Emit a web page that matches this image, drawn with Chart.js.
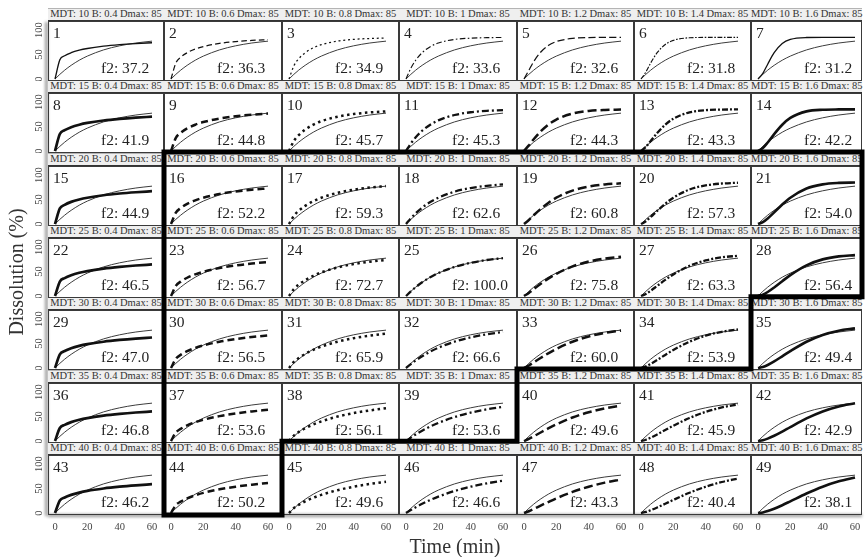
<!DOCTYPE html>
<html>
<head>
<meta charset="utf-8">
<script src="https://cdn.jsdelivr.net/npm/chart.js@4.4.0/dist/chart.umd.min.js"></script>
<style>
  html, body { margin: 0; padding: 0; background: #fff; }
  #fig { position: relative; width: 867px; height: 557px; overflow: hidden;
         font-family: "Liberation Serif", "DejaVu Serif", serif; color: #222; }
  .band { position: absolute; background: #efefef; border-top: 1px solid #b4b4b4; border-bottom: 1px solid #333; box-sizing: border-box; }
  .hdr { position: absolute; font-size: 10.5px; line-height: 12px; text-align: center; white-space: nowrap; color: #333; }
  .cell { position: absolute; }
  .cell canvas { display: block; }
  .ytitle { position: absolute; font-size: 20px; color: #333; white-space: nowrap;
            transform: translate(-50%, -50%) rotate(-90deg); }
  .xtitle { position: absolute; font-size: 20px; color: #333; white-space: nowrap; transform: translate(-50%, -50%); }
  .shade { position: absolute; background: #9a9a9a; filter: blur(1.5px); }
  svg.outline { position: absolute; left: 0; top: 0; pointer-events: none; }
</style>
</head>
<body>
<div id="fig"></div>
<script>
// Sampling times (min)
const minutes = [0, 3, 6, 10, 15, 20, 30, 40, 50, 60];

// Reference profile (MDT 25, B 1)
const reference = [0, 9.6, 18.1, 28.0, 38.4, 46.8, 59.4, 67.8, 73.5, 77.3];

// Grid parameters
const mdtValues = [10, 15, 20, 25, 30, 35, 40];
const betaValues = [0.4, 0.6, 0.8, 1, 1.2, 1.4, 1.6];
const dmax = 85;

// Test profiles, one list per MDT row, one series per B column
const mdt10 = [
  [0, 39.2, 47.4, 53.7, 58.8, 62.3, 67.0, 70.1, 72.3, 74.0],
  [0, 32.7, 44.3, 53.7, 61.3, 66.3, 72.7, 76.4, 78.8, 80.5],
  [0, 27.0, 41.3, 53.7, 63.7, 70.1, 77.4, 80.9, 82.7, 83.7],
  [0, 22.0, 38.4, 53.7, 66.0, 73.5, 80.8, 83.4, 84.4, 84.8],
  [0, 17.9, 35.5, 53.7, 68.3, 76.4, 83.0, 84.6, 84.9, 85.0],
  [0, 14.4, 32.9, 53.7, 70.4, 78.9, 84.2, 84.9, 85.0, 85.0],
  [0, 11.5, 30.3, 53.7, 72.5, 80.9, 84.7, 85.0, 85.0, 85.0]
];
const mdt15 = [
  [0, 34.7, 42.5, 48.7, 53.7, 57.3, 62.3, 65.7, 68.2, 70.1],
  [0, 26.9, 37.3, 46.2, 53.7, 59.1, 66.3, 71.0, 74.2, 76.4],
  [0, 20.5, 32.4, 43.7, 53.7, 60.9, 70.1, 75.5, 78.8, 80.9],
  [0, 15.4, 28.0, 41.4, 53.7, 62.6, 73.5, 79.1, 82.0, 83.4],
  [0, 11.5, 24.1, 39.0, 53.7, 64.3, 76.4, 81.7, 83.8, 84.6],
  [0, 8.5, 20.6, 36.8, 53.7, 66.0, 78.9, 83.4, 84.6, 84.9],
  [0, 6.2, 17.5, 34.6, 53.7, 67.6, 80.9, 84.3, 84.9, 85.0]
];
const mdt20 = [
  [0, 31.8, 39.2, 45.2, 50.1, 53.7, 58.8, 62.3, 64.9, 67.0],
  [0, 23.3, 32.7, 41.1, 48.4, 53.7, 61.3, 66.3, 70.0, 72.7],
  [0, 16.7, 27.0, 37.1, 46.6, 53.7, 63.7, 70.1, 74.4, 77.4],
  [0, 11.8, 22.0, 33.4, 44.9, 53.7, 66.0, 73.5, 78.0, 80.8],
  [0, 8.3, 17.9, 30.0, 43.1, 53.7, 68.3, 76.4, 80.8, 83.0],
  [0, 5.8, 14.4, 26.8, 41.4, 53.7, 70.4, 78.9, 82.7, 84.2],
  [0, 4.0, 11.5, 23.9, 39.8, 53.7, 72.5, 80.9, 83.9, 84.7]
];
const mdt25 = [
  [0, 29.6, 36.7, 42.5, 47.4, 50.9, 56.0, 59.6, 62.3, 64.4],
  [0, 20.8, 29.4, 37.3, 44.3, 49.6, 57.1, 62.4, 66.3, 69.3],
  [0, 14.2, 23.2, 32.4, 41.3, 48.2, 58.3, 65.2, 70.1, 73.7],
  [0, 9.6, 18.1, 28.0, 38.4, 46.8, 59.4, 67.8, 73.5, 77.3],
  [0, 6.4, 14.0, 24.1, 35.5, 45.4, 60.5, 70.3, 76.4, 80.1],
  [0, 4.3, 10.8, 20.6, 32.9, 44.1, 61.6, 72.7, 78.9, 82.2],
  [0, 2.8, 8.2, 17.5, 30.3, 42.8, 62.7, 74.8, 80.9, 83.5]
];
const mdt30 = [
  [0, 27.9, 34.7, 40.4, 45.2, 48.7, 53.7, 57.3, 60.1, 62.3],
  [0, 18.9, 26.9, 34.3, 41.1, 46.2, 53.7, 59.1, 63.2, 66.3],
  [0, 12.5, 20.5, 28.9, 37.1, 43.7, 53.7, 60.9, 66.1, 70.1],
  [0, 8.1, 15.4, 24.1, 33.4, 41.4, 53.7, 62.6, 68.9, 73.5],
  [0, 5.2, 11.5, 20.0, 30.0, 39.0, 53.7, 64.3, 71.6, 76.4],
  [0, 3.3, 8.5, 16.4, 26.8, 36.8, 53.7, 66.0, 74.0, 78.9],
  [0, 2.1, 6.2, 13.5, 23.9, 34.6, 53.7, 67.6, 76.2, 80.9]
];
const mdt35 = [
  [0, 26.5, 33.1, 38.6, 43.3, 46.8, 51.8, 55.4, 58.2, 60.4],
  [0, 17.4, 24.9, 32.0, 38.4, 43.4, 50.8, 56.2, 60.4, 63.6],
  [0, 11.1, 18.4, 26.1, 33.8, 40.1, 49.9, 57.1, 62.5, 66.8],
  [0, 7.0, 13.4, 21.1, 29.6, 37.0, 48.9, 57.9, 64.6, 69.7],
  [0, 4.3, 9.6, 16.9, 25.8, 34.0, 48.0, 58.7, 66.7, 72.4],
  [0, 2.7, 6.9, 13.5, 22.4, 31.2, 47.0, 59.5, 68.6, 74.9],
  [0, 1.6, 4.9, 10.7, 19.3, 28.5, 46.1, 60.4, 70.5, 77.0]
];
const mdt40 = [
  [0, 25.4, 31.8, 37.1, 41.7, 45.2, 50.1, 53.7, 56.5, 58.8],
  [0, 16.2, 23.3, 30.0, 36.2, 41.1, 48.4, 53.7, 57.9, 61.3],
  [0, 10.1, 16.7, 23.9, 31.1, 37.1, 46.6, 53.7, 59.3, 63.7],
  [0, 6.1, 11.8, 18.8, 26.6, 33.4, 44.9, 53.7, 60.6, 66.0],
  [0, 3.7, 8.3, 14.7, 22.5, 30.0, 43.1, 53.7, 62.0, 68.3],
  [0, 2.2, 5.8, 11.4, 19.0, 26.8, 41.4, 53.7, 63.3, 70.4],
  [0, 1.3, 4.0, 8.8, 16.0, 23.9, 39.8, 53.7, 64.6, 72.5]
];
const profiles = [mdt10, mdt15, mdt20, mdt25, mdt30, mdt35, mdt40];

// Similarity factor per panel (row by row)
const f2Values = [
  37.2, 36.3, 34.9, 33.6, 32.6, 31.8, 31.2,
  41.9, 44.8, 45.7, 45.3, 44.3, 43.3, 42.2,
  44.9, 52.2, 59.3, 62.6, 60.8, 57.3, 54.0,
  46.5, 56.7, 72.7, 100.0, 75.8, 63.3, 56.4,
  47.0, 56.5, 65.9, 66.6, 60.0, 53.9, 49.4,
  46.8, 53.6, 56.1, 53.6, 49.6, 45.9, 42.9,
  46.2, 50.2, 49.6, 46.6, 43.3, 40.4, 38.1
];

// Axis tick values
const xTicks = [0, 20, 40, 60];
const yTicks = [0, 50, 100];

// ---- layout ----
const colLeft = [48, 164, 282, 399, 517, 634, 751, 862];
const rowHead = mdtValues.map((_, r) => 14 + 72.3 * r);
const PLOT_H = 60;
const PPM = 97 / 60;          // pixels per minute inside a panel
const PAD_L = 30, PAD_B = 24; // room for tick labels on the outer panels

// test-curve styling per B column
const testStyle = [
  { w: 2.7, dash: [] },
  { w: 2.5, dash: [7, 4] },
  { w: 2.5, dash: [2.5, 3.5] },
  { w: 2.3, dash: [7, 3, 2, 3] },
  { w: 2.5, dash: [9, 4] },
  { w: 2.3, dash: [6, 2, 2, 2] },
  { w: 2.6, dash: [] }
];

const fig = document.getElementById('fig');
const FONT = '"Liberation Serif", "DejaVu Serif", serif';
Chart.defaults.font.family = FONT;

// Header bands
rowHead.forEach((h, r) => {
  const band = document.createElement('div');
  band.className = 'band';
  band.style.left = colLeft[0] + 'px';
  band.style.top = (h - 6) + 'px';
  band.style.width = (colLeft[7] - colLeft[0]) + 'px';
  band.style.height = '13px';
  fig.appendChild(band);
  betaValues.forEach((b, c) => {
    const t = document.createElement('div');
    t.className = 'hdr';
    t.style.left = colLeft[c] + 'px';
    t.style.width = (colLeft[c + 1] - colLeft[c]) + 'px';
    t.style.top = (h - 6) + 'px';
    t.textContent = 'MDT: ' + mdtValues[r] + ' B: ' + b + ' Dmax: ' + dmax;
    fig.appendChild(t);
  });
});

// Draws the panel frame, panel number and f2 label
const panelDecor = {
  id: 'panelDecor',
  beforeDatasetsDraw(chart, args, opts) {
    const { ctx, chartArea: a } = chart;
    ctx.save();
    ctx.strokeStyle = '#3a3a3a';
    ctx.lineWidth = 1;
    ctx.strokeRect(a.left + 0.5, a.top + 0.5, a.right - a.left - 1, a.bottom - a.top - 1);
    ctx.fillStyle = '#222';
    ctx.font = '15.5px ' + FONT;
    ctx.textBaseline = 'middle';
    ctx.textAlign = 'left';
    ctx.fillText(String(opts.num), a.left + 5, a.top + 13);
    ctx.fillText('f2: ' + opts.f2.toFixed(1), a.left + 53, a.top + 48);
    ctx.restore();
  }
};

mdtValues.forEach((mdt, r) => {
  betaValues.forEach((b, c) => {
    const w = colLeft[c + 1] - colLeft[c];
    const padL = c === 0 ? PAD_L : 0;
    const padB = r === mdtValues.length - 1 ? PAD_B : 0;
    const top = Math.round(rowHead[r] + 7);

    const cell = document.createElement('div');
    cell.className = 'cell';
    cell.style.left = (colLeft[c] - padL) + 'px';
    cell.style.top = top + 'px';
    const cv = document.createElement('canvas');
    cv.width = w + padL; cv.height = PLOT_H + padB;
    cv.style.width = cv.width + 'px'; cv.style.height = cv.height + 'px';
    cell.appendChild(cv);
    fig.appendChild(cell);

    const st = testStyle[c];
    const thin = r === 0;
    const idx = r * 7 + c;
    const toXY = arr => minutes.map((t, i) => ({ x: t, y: arr[i] }));

    new Chart(cv, {
      type: 'line',
      data: {
        datasets: [
          {
            data: toXY(profiles[r][c]),
            borderColor: '#111',
            borderWidth: thin ? Math.max(1.1, st.w * 0.5) : st.w,
            borderDash: thin ? st.dash.map(d => d * 0.8) : st.dash,
            order: 0
          },
          {
            data: toXY(reference),
            borderColor: '#3c3c3c',
            borderWidth: 1,
            order: 1
          }
        ]
      },
      options: {
        responsive: false,
        animation: false,
        devicePixelRatio: 1,
        layout: { padding: 0 },
        elements: {
          point: { radius: 0 },
          line: { cubicInterpolationMode: 'monotone', borderCapStyle: 'butt', fill: false }
        },
        plugins: {
          legend: { display: false },
          tooltip: { enabled: false },
          panelDecor: { num: idx + 1, f2: f2Values[idx] }
        },
        scales: {
          x: {
            type: 'linear',
            min: -7 / PPM,
            max: (w - 7) / PPM,
            display: padB > 0,
            grid: { display: false, drawTicks: false },
            border: { display: false },
            ticks: { padding: 6, color: '#444', font: { size: 10.5 }, minRotation: 0, maxRotation: 0 },
            afterBuildTicks: s => { s.ticks = xTicks.map(v => ({ value: v })); },
            afterFit: s => { s.height = padB; s.paddingLeft = 0; s.paddingRight = 0; }
          },
          y: {
            type: 'linear',
            min: -4,
            max: 118.4,
            display: padL > 0,
            grid: { display: false, drawTicks: false },
            border: { display: false },
            ticks: { padding: 1, color: '#444', font: { size: 10.5 }, minRotation: 90, maxRotation: 90, crossAlign: 'center' },
            afterBuildTicks: s => { s.ticks = yTicks.map(v => ({ value: v })); },
            afterFit: s => { s.width = padL; s.paddingTop = 0; s.paddingBottom = 0; }
          }
        }
      },
      plugins: [panelDecor]
    });
  });
});

// Soft grey edges on the left and bottom of the grid
const shadeL = document.createElement('div');
shadeL.className = 'shade';
Object.assign(shadeL.style, { left: '45px', top: '22px', width: '3px', height: '494px' });
fig.insertBefore(shadeL, fig.firstChild);
const shadeB = document.createElement('div');
shadeB.className = 'shade';
Object.assign(shadeB.style, { left: '48px', top: '514px', width: '814px', height: '3px' });
fig.insertBefore(shadeB, fig.firstChild);

// Outline around the panels with f2 >= 50
const T = r => rowHead[r] - 6.5;
const bottomEdge = Math.round(rowHead[6] + 7) + PLOT_H;
const pts = [
  [colLeft[1], T(2)], [colLeft[7], T(2)], [colLeft[7], T(4)],
  [colLeft[6], T(4)], [colLeft[6], T(5)], [colLeft[4], T(5)],
  [colLeft[4], T(6)], [colLeft[2], T(6)], [colLeft[2], bottomEdge],
  [colLeft[1], bottomEdge]
];
const NS = 'http://www.w3.org/2000/svg';
const svg = document.createElementNS(NS, 'svg');
svg.setAttribute('class', 'outline');
svg.setAttribute('width', 867); svg.setAttribute('height', 557);
const poly = document.createElementNS(NS, 'polygon');
poly.setAttribute('points', pts.map(p => p.join(',')).join(' '));
poly.setAttribute('fill', 'none');
poly.setAttribute('stroke', '#000');
poly.setAttribute('stroke-width', '5');
poly.setAttribute('stroke-linejoin', 'miter');
svg.appendChild(poly);
fig.appendChild(svg);

// Axis titles
const yt = document.createElement('div');
yt.className = 'ytitle';
yt.style.left = '16px'; yt.style.top = '272px';
yt.textContent = 'Dissolution (%)';
fig.appendChild(yt);
const xt = document.createElement('div');
xt.className = 'xtitle';
xt.style.left = '455px'; xt.style.top = '546px';
xt.textContent = 'Time (min)';
fig.appendChild(xt);
</script>
</body>
</html>
